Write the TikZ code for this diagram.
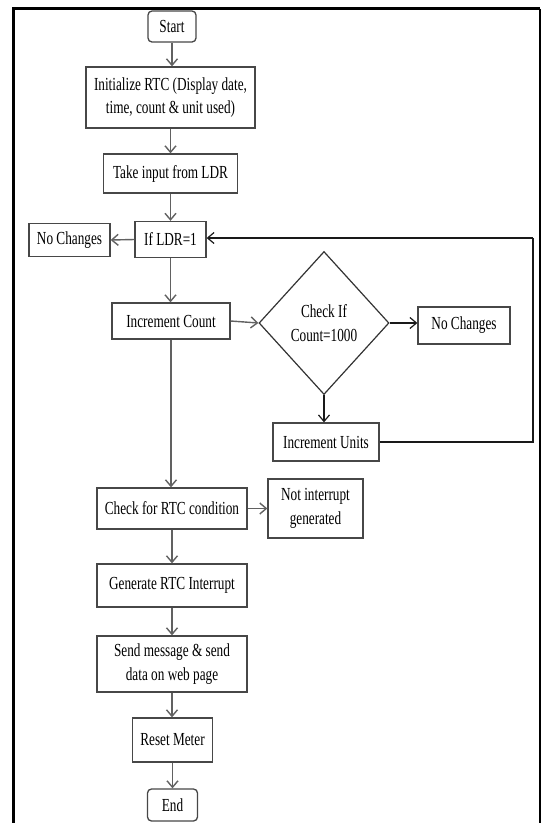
\documentclass[tikz,border=0pt]{standalone}
\usepackage{fontspec}
\setmainfont[FakeStretch=0.72]{Liberation Serif}
\usetikzlibrary{shapes.geometric,arrows.meta}
\begin{document}
\begin{tikzpicture}[x=1pt,y=-1pt,
  txt/.style={font=\fontsize{18.4}{23.5}\selectfont,align=center,text=black},
  box/.style={txt,draw=black!72,line width=1.3pt,fill=white,inner sep=0pt},
  term/.style={box,rounded corners=4pt},
  decision/.style={txt,draw=black!80,line width=1.2pt,shape=diamond,aspect=1,inner sep=0pt},
  flow/.style={draw=black!62,line width=1.4pt,-{Straight Barb[length=6.5pt,width=11pt]}},
  flowk/.style={draw=black!90,line width=1.2pt,-{Straight Barb[length=6.5pt,width=11pt]}},
  plain/.style={draw=black!90,line width=1.2pt}]
\useasboundingbox (0,0) rectangle (541,823);
% outer frame (cut off at the bottom)
\draw[line width=3pt] (13,830) -- (13,8.5) -- (539.5,8.5);
\draw[line width=2pt] (539.5,8.5) -- (539.5,830);

\node[term,minimum width=48pt,minimum height=31pt] (start) at (172,26.5) {Start};
\node[box,minimum width=169pt,minimum height=61pt] (init) at (170.5,97.5) {Initialize RTC (Display date,\\time, count \& unit used)};
\node[box,minimum width=134pt,minimum height=39pt] (take) at (170.5,173.5) {Take input from LDR};
\node[box,minimum width=71pt,minimum height=36pt] (ifldr) at (170.5,239.5) {If LDR=1};
\node[box,minimum width=81pt,minimum height=33pt] (nc1) at (69.5,240) {No Changes};
\node[box,minimum width=118pt,minimum height=36pt] (inccount) at (171,321) {Increment Count};
\node[decision,minimum width=130pt,minimum height=143pt] (check) at (324,323) {Check If\\Count=1000};
\node[box,minimum width=92pt,minimum height=37pt] (nc2) at (464,325.5) {No Changes};
\node[box,minimum width=106pt,minimum height=38pt] (incunits) at (326,442) {Increment Units};
\node[box,minimum width=150pt,minimum height=41pt] (checkrtc) at (172,508.5) {Check for RTC condition};
\node[box,minimum width=95pt,minimum height=59pt] (notint) at (315.5,508.5) {Not interrupt\\generated};
\node[box,minimum width=150pt,minimum height=43pt] (gen) at (172,585.5) {Generate RTC Interrupt};
\node[box,minimum width=150pt,minimum height=56pt] (send) at (172,664) {Send message \& send\\data on web page};
\node[box,minimum width=80pt,minimum height=44pt] (reset) at (172.5,740) {Reset Meter};
\node[term,minimum width=50pt,minimum height=32pt] (end) at (172.5,805) {End};

\coordinate (fbr) at (533,442);
\coordinate (fbt) at (533,238);

\draw[flow] (start.south) -- (start.south |- init.north);
\draw[flow] (init.south) -- (init.south |- take.north);
\draw[flow] (take.south) -- (take.south |- ifldr.north);
\draw[flow] (ifldr.west) -- (nc1.east);
\draw[flow] (ifldr.south) -- (ifldr.south |- inccount.north);
\draw[flow] (inccount.east) -- (check.west);
\draw[flowk] (check.east) -- (nc2.west |- check.east);
\draw[flowk] (check.south) -- (check.south |- incunits.north);
\draw[plain] (incunits.east) -- (fbr) -- (fbt);
\draw[flowk] (fbt) -- (ifldr.east |- fbt);
\draw[flow] (inccount.south) -- (inccount.south |- checkrtc.north);
\draw[flow] (checkrtc.east) -- (notint.west);
\draw[flow] (checkrtc.south) -- (checkrtc.south |- gen.north);
\draw[flow] (gen.south) -- (gen.south |- send.north);
\draw[flow] (send.south) -- (send.south |- reset.north);
\draw[flow] (reset.south) -- (reset.south |- end.north);
\end{tikzpicture}
\end{document}
